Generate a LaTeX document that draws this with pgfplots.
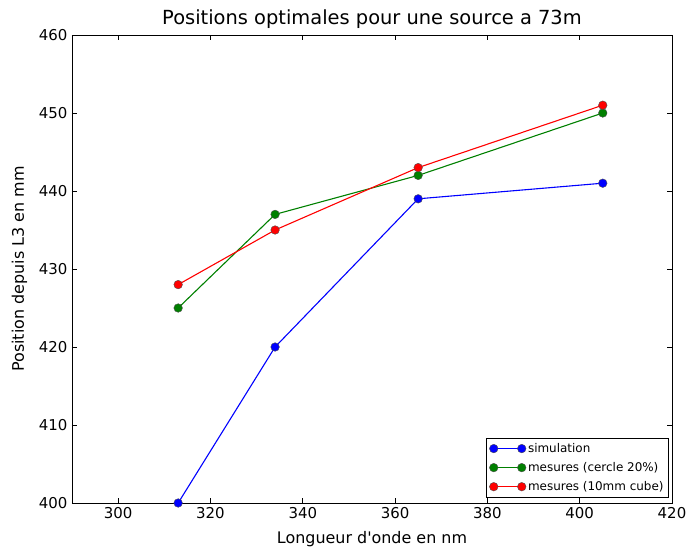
\documentclass[border=0pt]{standalone}
\usepackage{fontspec}
\setmainfont{DejaVu Sans}[Ligatures=TeXOff]
\usepackage{pgfplots}
\pgfplotsset{compat=1.18}
\definecolor{mplgreen}{rgb}{0,0.5,0}
\begin{document}
\begin{tikzpicture}[x=1bp,y=1bp]
\path[use as bounding box] (-72bp,-45bp) rectangle (619bp,503bp);
\begin{axis}[
  at={(0,0)}, anchor=south west,
  scale only axis, width=600bp, height=468bp,
  xmin=290, xmax=420, ymin=400, ymax=460,
  xtick={300,320,...,420}, ytick={400,410,...,460},
  tick align=inside, major tick length=5bp,
  xtick pos=both, ytick pos=both,
  /pgf/number format/assume math mode=true,
  /pgf/number format/1000 sep={},
  tick label style={font=\fontsize{15}{17}\selectfont},
  xticklabel style={yshift=-1bp},
  yticklabel style={xshift=-1bp},
  title={Positions optimales pour une source a 73m},
  title style={font=\fontsize{19.5}{22}\selectfont, yshift=-3bp},
  xlabel={Longueur d'onde en nm},
  ylabel={Position depuis L3 en mm},
  label style={font=\fontsize{16}{18}\selectfont},
  xlabel style={yshift=-6bp},
  ylabel style={yshift=5bp},
  axis line style={line width=0.8bp},
  every tick/.style={black, line width=0.6bp},
  clip=false,
  legend style={font=\fontsize{12}{14}\selectfont, draw=black, line width=0.8bp, inner sep=3bp, row sep=4.5bp, at={(0.995,0.012)}, anchor=south east},
  legend cell align=left,
  legend image code/.code={\draw[#1, mark repeat=1] plot coordinates {(0bp,0bp) (28bp,0bp)};},
]
\addplot[blue, line width=1.1bp, mark=*, mark size=4.3bp, mark options={fill=blue, draw=black!70, line width=0.4bp}]
  coordinates {(313,400) (334,420) (365,439) (405,441)};
\addlegendentry{simulation}
\addplot[mplgreen, line width=1.1bp, mark=*, mark size=4.3bp, mark options={fill=mplgreen, draw=black!70, line width=0.4bp}]
  coordinates {(313,425) (334,437) (365,442) (405,450)};
\addlegendentry{mesures (cercle 20\%)}
\addplot[red, line width=1.1bp, mark=*, mark size=4.3bp, mark options={fill=red, draw=black!70, line width=0.4bp}]
  coordinates {(313,428) (334,435) (365,443) (405,451)};
\addlegendentry{mesures (10mm cube)}
\end{axis}
\end{tikzpicture}
\end{document}
